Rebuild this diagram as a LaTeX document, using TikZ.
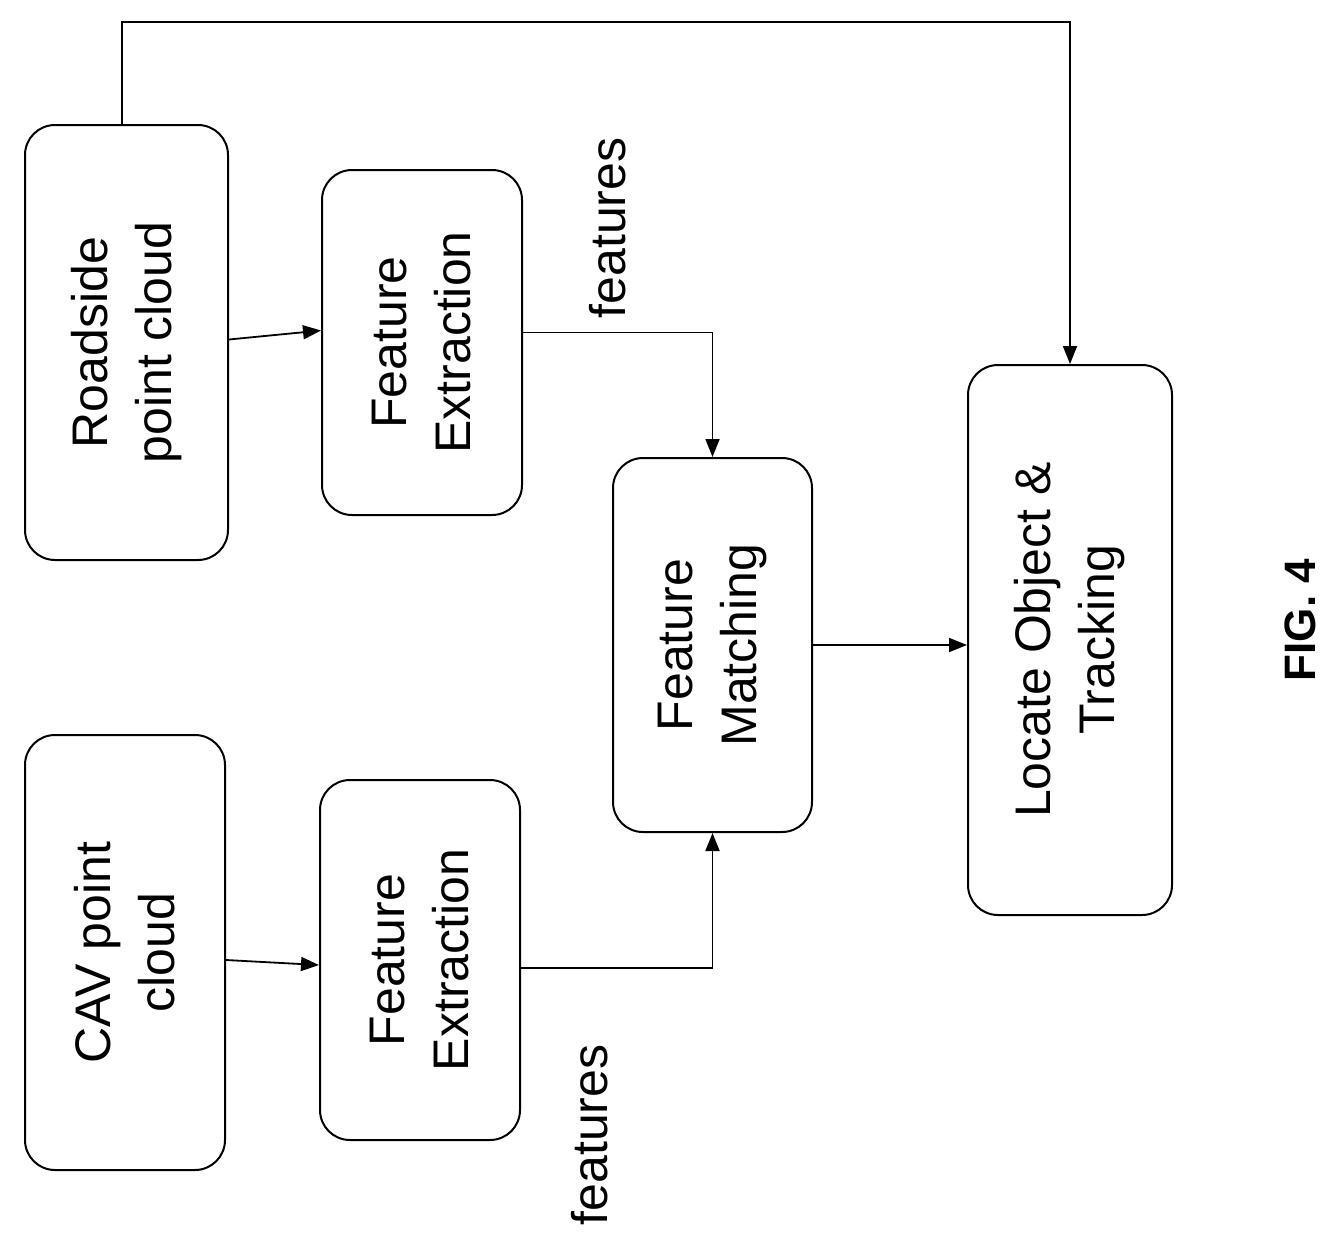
\documentclass[tikz,border=0pt]{standalone}
\usepackage{fontspec}
\setmainfont{Liberation Sans}
\usetikzlibrary{arrows.meta}
\begin{document}
\begin{tikzpicture}[x=1pt,y=-1pt,
  box/.style={draw,line width=2pt,rounded corners=30pt,inner sep=0pt},
  txt/.style={rotate=90,align=center,font=\fontsize{50}{64}\selectfont},
  arr/.style={line width=1.8pt,-{Triangle[length=18pt,width=14pt]}},
  ln/.style={line width=1.8pt}]
\useasboundingbox (0,0) rectangle (1332,1255);
\node[box,minimum width=203pt,minimum height=435pt] (rs) at (126.5,342.5) {};
\node[box,minimum width=200pt,minimum height=435pt] (cav) at (125,952.5) {};
\node[box,minimum width=200pt,minimum height=345pt] (fe1) at (422,342.5) {};
\node[box,minimum width=200pt,minimum height=360pt] (fe2) at (420,960) {};
\node[box,minimum width=199pt,minimum height=374pt] (fm) at (712.5,645) {};
\node[box,minimum width=204pt,minimum height=550pt] (lo) at (1070,640) {};
\node[txt] at (rs.center) {Roadside\\point cloud};
\node[txt] at (cav.center) {CAV point\\cloud};
\node[txt] at (fe1.center) {Feature\\Extraction};
\node[txt] at (fe2.center) {Feature\\Extraction};
\node[txt] at (fm.center) {Feature\\Matching};
\node[txt] at (lo.center) {Locate Object \&\\Tracking};
\node[txt] (f1) at (608,228) {features};
\node[txt] (f2) at (590,1135) {features};
\node[rotate=90,font=\fontsize{44}{50}\selectfont\bfseries] (fig) at (1300,620) {FIG. 4};
\coordinate (top) at (122,22);
\draw[arr] (rs.north -| top) -- (top) -| (lo.north);
\draw[arr] ([yshift=3pt]rs.east) -- ([yshift=12pt]fe1.west);
\draw[arr] ([yshift=10pt]fe1.east) -| (fm.north);
\draw[arr] (cav.east |- fe2.west) -- ([yshift=-5pt]fe2.west);
\draw[arr] ([yshift=-8pt]fe2.east) -| (fm.south);
\draw[arr] (fm.east) -- (lo.west |- fm.east);
\end{tikzpicture}
\end{document}
